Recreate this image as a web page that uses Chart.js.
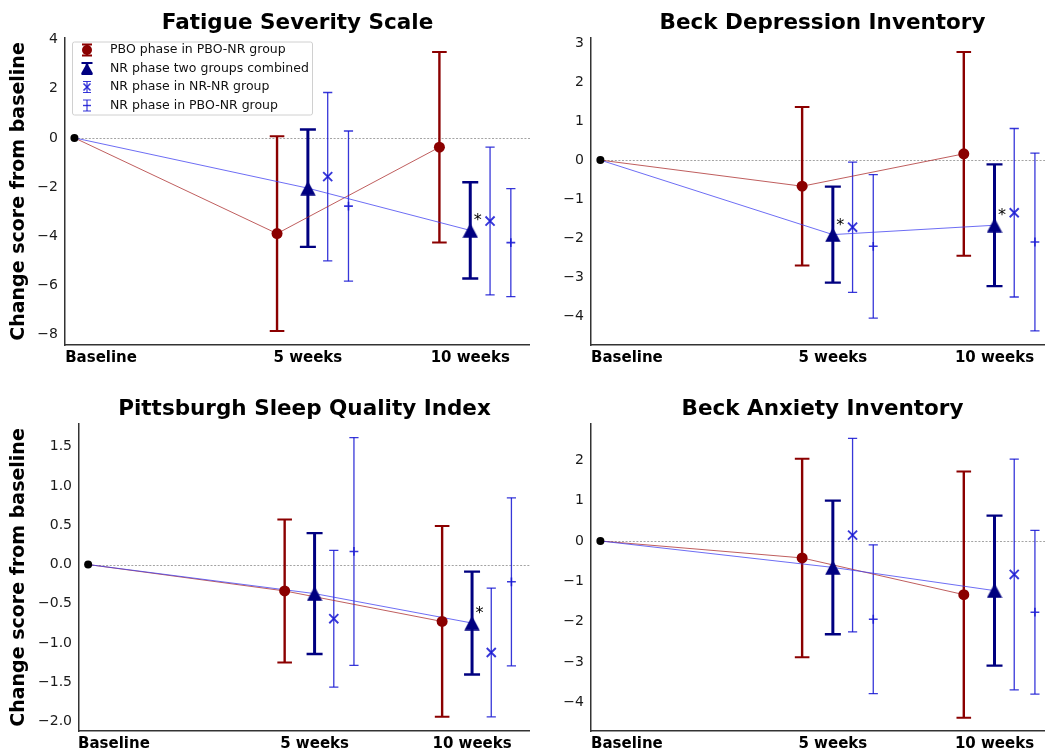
<!DOCTYPE html>
<html>
<head>
<meta charset="utf-8">
<title>Change score from baseline</title>
<script src="https://cdn.jsdelivr.net/npm/chart.js@4.4.0/dist/chart.umd.min.js"></script>
<style>
  html, body { margin: 0; padding: 0; background: #fff; overflow: hidden; }
  body { width: 1045px; height: 751px; position: relative; }
  canvas { position: absolute; }
</style>
</head>
<body>
<canvas id="fss"></canvas>
<canvas id="bdi"></canvas>
<canvas id="psqi"></canvas>
<canvas id="bai"></canvas>
<script>
// ── Data ──────────────────────────────────────────────────────────────────
const TIMEPOINTS = ['Baseline', '5 weeks', '10 weeks'];
const SERIES_NAMES = [
  'PBO phase in PBO-NR group',
  'NR phase two groups combined',
  'NR phase in NR-NR group',
  'NR phase in PBO-NR group'
];
const BASELINE_VALUE = 0;

// Fatigue Severity Scale — values at 5 and 10 weeks (mean, error half-width)
const FSS_PBO = [-3.90, -0.38];
const FSS_PBO_ERR = [3.97, 3.88];
const FSS_ALL = [-2.05, -3.77];
const FSS_ALL_ERR = [2.39, 1.96];
const FSS_NRNR = [-1.58, -3.39];
const FSS_NRNR_ERR = [3.43, 3.01];
const FSS_PBONR = [-2.78, -4.27];
const FSS_PBONR_ERR = [3.06, 2.20];
const FSS_STAR = [false, true];
const FSS_TICKS = [-8, -6, -4, -2, 0, 2, 4];

// Beck Depression Inventory
const BDI_PBO = [-0.67, 0.16];
const BDI_PBO_ERR = [2.03, 2.61];
const BDI_ALL = [-1.91, -1.67];
const BDI_ALL_ERR = [1.23, 1.56];
const BDI_NRNR = [-1.72, -1.35];
const BDI_NRNR_ERR = [1.67, 2.16];
const BDI_PBONR = [-2.21, -2.10];
const BDI_PBONR_ERR = [1.84, 2.28];
const BDI_STAR = [true, true];
const BDI_TICKS = [-4, -3, -2, -1, 0, 1, 2, 3];

// Pittsburgh Sleep Quality Index
const PSQI_PBO = [-0.336, -0.725];
const PSQI_PBO_ERR = [0.91, 1.215];
const PSQI_ALL = [-0.37, -0.745];
const PSQI_ALL_ERR = [0.77, 0.655];
const PSQI_NRNR = [-0.69, -1.12];
const PSQI_NRNR_ERR = [0.87, 0.82];
const PSQI_PBONR = [0.167, -0.22];
const PSQI_PBONR_ERR = [1.45, 1.07];
const PSQI_STAR = [false, true];
const PSQI_TICKS = [-2.0, -1.5, -1.0, -0.5, 0.0, 0.5, 1.0, 1.5];

// Beck Anxiety Inventory
const BAI_PBO = [-0.42, -1.33];
const BAI_PBO_ERR = [2.46, 3.05];
const BAI_ALL = [-0.655, -1.23];
const BAI_ALL_ERR = [1.655, 1.86];
const BAI_NRNR = [0.145, -0.83];
const BAI_NRNR_ERR = [2.40, 2.86];
const BAI_PBONR = [-1.94, -1.765];
const BAI_PBONR_ERR = [1.845, 2.03];
const BAI_STAR = [false, false];
const BAI_TICKS = [-4, -3, -2, -1, 0, 1, 2];

// ── X placement (axis units) ─────────────────────────────────────────────
const BASELINE_X = 0;
const WEEK_X = [7.19, 12.19];
const SERIES_SHIFT = [-0.95, 0, 0.61, 1.25];
const LABEL_X = [0.82, 7.19, 12.19];
const X_MIN = -0.29, X_MAX = 14.03;

// ── Styles ────────────────────────────────────────────────────────────────
const FONT = "'DejaVu Sans', 'Liberation Sans', sans-serif";
const RED = '#8b0000';
const NAVY = '#000080';
const BLUE = 'rgba(20,20,210,0.85)';
Chart.defaults.font.family = FONT;

function triangleMarker(w, h, color) {
  const c = document.createElement('canvas');
  c.width = w; c.height = h;
  const g = c.getContext('2d');
  g.fillStyle = color;
  g.beginPath();
  g.moveTo(w / 2, 0.3);
  g.lineTo(w - 0.3, h - 0.3);
  g.lineTo(0.3, h - 0.3);
  g.closePath();
  g.fill();
  return c;
}
const TRIANGLE = triangleMarker(16, 15, NAVY);

function fmtTick(v, decimals) {
  const s = decimals ? v.toFixed(decimals) : String(Math.round(v));
  return s.replace('-', '\u2212');
}

function pts(means, k) {
  return means.map((m, i) => ({ x: WEEK_X[i] + SERIES_SHIFT[k], y: m }));
}

// ── Plugins ───────────────────────────────────────────────────────────────
const zeroLine = {
  id: 'zeroLine',
  beforeDatasetsDraw(chart) {
    const { ctx, chartArea, scales: { x, y } } = chart;
    const py = Math.round(y.getPixelForValue(0)) + 0.5;
    ctx.save();
    ctx.strokeStyle = '#8c8c8c';
    ctx.lineWidth = 0.8;
    ctx.setLineDash([2, 1.6]);
    ctx.beginPath();
    ctx.moveTo(x.getPixelForValue(BASELINE_X), py);
    ctx.lineTo(chartArea.right, py);
    ctx.stroke();
    ctx.restore();
  }
};

const errorBars = {
  id: 'errorBars',
  beforeDatasetsDraw(chart) {
    const { ctx, scales: { x, y } } = chart;
    ctx.save();
    chart.data.datasets.forEach(ds => {
      if (!ds.errors) return;
      const st = ds.barStyle;
      ds.data.forEach((p, i) => {
        const px = x.getPixelForValue(p.x);
        const top = y.getPixelForValue(p.y + ds.errors[i]);
        const bot = y.getPixelForValue(p.y - ds.errors[i]);
        ctx.strokeStyle = st.color;
        ctx.lineWidth = st.width;
        ctx.beginPath();
        ctx.moveTo(px, top);
        ctx.lineTo(px, bot);
        ctx.stroke();
        ctx.lineWidth = st.capWidth;
        ctx.beginPath();
        ctx.moveTo(px - st.cap, top); ctx.lineTo(px + st.cap, top);
        ctx.moveTo(px - st.cap, bot); ctx.lineTo(px + st.cap, bot);
        ctx.stroke();
      });
    });
    ctx.restore();
  }
};

const decorations = {
  id: 'decorations',
  afterDatasetsDraw(chart, args, opts) {
    const { ctx, chartArea, scales: { x, y } } = chart;
    ctx.save();
    // title
    ctx.fillStyle = '#000';
    ctx.font = `bold 21.5px ${FONT}`;
    ctx.textAlign = 'center';
    ctx.textBaseline = 'alphabetic';
    ctx.fillText(opts.title, (chartArea.left + chartArea.right) / 2, chartArea.top - 9);
    // significance stars next to the combined-group markers
    ctx.font = `16px ${FONT}`;
    const all = chart.data.datasets.find(d => d.star);
    all.data.forEach((p, i) => {
      if (!all.star[i]) return;
      ctx.fillText('*', x.getPixelForValue(p.x) + 7.5, y.getPixelForValue(p.y) - 5);
    });
    if (opts.legend) drawLegend(ctx);
    ctx.restore();
  }
};

function drawLegend(ctx) {
  const bx = 72, by = 41.5, bw = 240, bh = 73;
  ctx.save();
  ctx.fillStyle = 'rgba(255,255,255,0.85)';
  ctx.strokeStyle = '#d0d0d0';
  ctx.lineWidth = 1;
  ctx.beginPath();
  ctx.roundRect(bx + 0.5, by + 0.5, bw, bh, 2);
  ctx.fill();
  ctx.stroke();
  const rows = [50, 68.5, 87, 105.5];
  const hx = 87;
  const styles = [
    { color: RED, w: 2.2, cap: 5 },
    { color: NAVY, w: 2.6, cap: 5.5 },
    { color: BLUE, w: 1.2, cap: 4 },
    { color: BLUE, w: 1.2, cap: 4 }
  ];
  rows.forEach((ry, k) => {
    const s = styles[k];
    ctx.strokeStyle = s.color;
    ctx.lineWidth = s.w;
    ctx.beginPath();
    ctx.moveTo(hx, ry - 5.5); ctx.lineTo(hx, ry + 5.5);
    ctx.stroke();
    ctx.lineWidth = Math.min(s.w, 2);
    ctx.beginPath();
    ctx.moveTo(hx - s.cap, ry - 5.5); ctx.lineTo(hx + s.cap, ry - 5.5);
    ctx.moveTo(hx - s.cap, ry + 5.5); ctx.lineTo(hx + s.cap, ry + 5.5);
    ctx.stroke();
    if (k === 0) {
      ctx.fillStyle = RED;
      ctx.beginPath(); ctx.arc(hx, ry, 5, 0, Math.PI * 2); ctx.fill();
    } else if (k === 1) {
      ctx.fillStyle = NAVY;
      ctx.beginPath();
      ctx.moveTo(hx, ry - 5.5); ctx.lineTo(hx + 6, ry + 5); ctx.lineTo(hx - 6, ry + 5);
      ctx.closePath(); ctx.fill();
    } else if (k === 2) {
      ctx.lineWidth = 1.6;
      ctx.beginPath();
      ctx.moveTo(hx - 3.5, ry - 3.5); ctx.lineTo(hx + 3.5, ry + 3.5);
      ctx.moveTo(hx + 3.5, ry - 3.5); ctx.lineTo(hx - 3.5, ry + 3.5);
      ctx.stroke();
    } else {
      ctx.lineWidth = 1.4;
      ctx.beginPath();
      ctx.moveTo(hx - 4, ry); ctx.lineTo(hx + 4, ry);
      ctx.stroke();
    }
    ctx.fillStyle = '#111';
    ctx.font = `12.5px ${FONT}`;
    ctx.textAlign = 'left';
    ctx.textBaseline = 'middle';
    ctx.fillText(SERIES_NAMES[k], 110, ry);
  });
  ctx.restore();
}

// ── Panels ────────────────────────────────────────────────────────────────
function makePanel(id, title, series, errs, star, yMin, yMax, yTicks, decimals, box) {
  const cv = document.getElementById(id);
  cv.width = box.w; cv.height = box.h;
  cv.style.left = box.left + 'px';
  cv.style.top = box.top + 'px';

  const bar = [
    { color: RED, width: 2.4, cap: 7.3, capWidth: 2 },
    { color: NAVY, width: 3, cap: 8, capWidth: 2.4 },
    { color: BLUE, width: 1.3, cap: 4.6, capWidth: 1.3 },
    { color: BLUE, width: 1.3, cap: 4.6, capWidth: 1.3 }
  ];
  const base = { x: BASELINE_X, y: BASELINE_VALUE };

  const datasets = [
    { data: [base, ...pts(series[0], 0)], showLine: true, borderColor: 'rgba(170,40,40,0.75)',
      borderWidth: 1, pointRadius: 0, order: 20 },
    { data: [base, ...pts(series[1], 1)], showLine: true, borderColor: 'rgba(60,60,240,0.75)',
      borderWidth: 1, pointRadius: 0, order: 19 },
    { data: pts(series[0], 0), errors: errs[0], barStyle: bar[0], pointStyle: 'circle',
      pointRadius: 5.5, backgroundColor: RED, borderColor: RED, borderWidth: 0, order: 4 },
    { data: pts(series[1], 1), errors: errs[1], barStyle: bar[1], star: star, pointStyle: TRIANGLE,
      pointRadius: 8, order: 3 },
    { data: pts(series[2], 2), errors: errs[2], barStyle: bar[2], pointStyle: 'crossRot',
      pointRadius: 6.4, borderColor: BLUE, borderWidth: 1.9, order: 2 },
    { data: pts(series[3], 3), errors: errs[3], barStyle: bar[3], pointStyle: 'cross',
      pointRadius: 4.4, borderColor: BLUE, borderWidth: 1.6, order: 1 },
    { data: [base], pointStyle: 'circle', pointRadius: 4, backgroundColor: '#000',
      borderColor: '#000', borderWidth: 0, order: 0 }
  ];

  return new Chart(cv, {
    type: 'scatter',
    data: { datasets },
    plugins: [zeroLine, errorBars, decorations],
    options: {
      responsive: false,
      animation: false,
      events: [],
      layout: { autoPadding: false, padding: { top: box.padTop, left: 0, right: 0, bottom: 0 } },
      plugins: {
        legend: { display: false },
        tooltip: { enabled: false },
        decorations: { title, legend: !!box.legend }
      },
      scales: {
        x: {
          type: 'linear', min: X_MIN, max: X_MAX,
          grid: { display: false, drawTicks: false },
          border: { display: true, color: '#333', width: 1.5 },
          afterBuildTicks: s => { s.ticks = LABEL_X.map(v => ({ value: v })); },
          afterFit: s => { s.height = 26; s.paddingLeft = 0; s.paddingRight = 0; },
          ticks: {
            autoSkip: false, maxRotation: 0, padding: 4, color: '#000',
            font: { family: FONT, size: 15, weight: 'bold' },
            callback: (v, i) => TIMEPOINTS[i]
          }
        },
        y: {
          type: 'linear', min: yMin, max: yMax,
          grid: { display: false, drawTicks: false },
          border: { display: true, color: '#333', width: 1.5 },
          afterBuildTicks: s => { s.ticks = yTicks.map(v => ({ value: v })); },
          afterFit: s => { s.width = box.yw; s.paddingTop = 0; s.paddingBottom = 0; },
          ticks: {
            padding: 7, color: '#1a1a1a',
            font: { family: FONT, size: 14 },
            callback: v => fmtTick(v, decimals)
          },
          title: {
            display: !!box.ylabel,
            text: 'Change score from baseline',
            color: '#000',
            font: { family: FONT, size: 19, weight: 'bold' },
            padding: { top: 8, bottom: 0 }
          }
        }
      }
    }
  });
}

makePanel('fss', 'Fatigue Severity Scale',
  [FSS_PBO, FSS_ALL, FSS_NRNR, FSS_PBONR],
  [FSS_PBO_ERR, FSS_ALL_ERR, FSS_NRNR_ERR, FSS_PBONR_ERR],
  FSS_STAR, -8.44, 4.07, FSS_TICKS, 0,
  { left: 0, top: 0, w: 530, h: 371, padTop: 38, yw: 65, ylabel: true, legend: true });

makePanel('bdi', 'Beck Depression Inventory',
  [BDI_PBO, BDI_ALL, BDI_NRNR, BDI_PBONR],
  [BDI_PBO_ERR, BDI_ALL_ERR, BDI_NRNR_ERR, BDI_PBONR_ERR],
  BDI_STAR, -4.74, 3.13, BDI_TICKS, 0,
  { left: 535, top: 0, w: 519, h: 371, padTop: 38, yw: 56 });

makePanel('psqi', 'Pittsburgh Sleep Quality Index',
  [PSQI_PBO, PSQI_ALL, PSQI_NRNR, PSQI_PBONR],
  [PSQI_PBO_ERR, PSQI_ALL_ERR, PSQI_NRNR_ERR, PSQI_PBONR_ERR],
  PSQI_STAR, -2.12, 1.79, PSQI_TICKS, 1,
  { left: 0, top: 380, w: 530, h: 377, padTop: 44, yw: 79, ylabel: true });

makePanel('bai', 'Beck Anxiety Inventory',
  [BAI_PBO, BAI_ALL, BAI_NRNR, BAI_PBONR],
  [BAI_PBO_ERR, BAI_ALL_ERR, BAI_NRNR_ERR, BAI_PBONR_ERR],
  BAI_STAR, -4.71, 2.90, BAI_TICKS, 0,
  { left: 535, top: 380, w: 519, h: 377, padTop: 44, yw: 56 });
</script>
</body>
</html>
